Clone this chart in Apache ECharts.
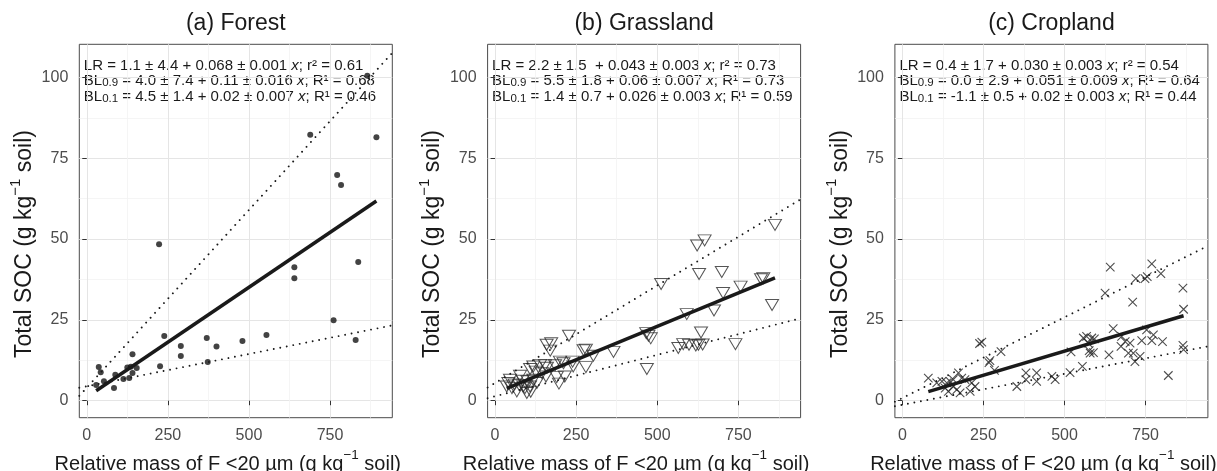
<!DOCTYPE html>
<html><head><meta charset="utf-8">
<script src="https://cdn.jsdelivr.net/npm/echarts@6/dist/echarts.min.js"></script>
<style>html,body{margin:0;padding:0;background:#fff}#c{width:1217px;height:471px}</style>
</head><body><div id="c"></div>
<script>
// ---------- data ----------
const panelTitles = ['(a) Forest', '(b) Grassland', '(c) Cropland'];
const xTicks = [0, 250, 500, 750];
const xMinor = [125, 375, 625, 875];
const yTicks = [0, 25, 50, 75, 100];
const yMinor = [12.5, 37.5, 62.5, 87.5];

const forestX = [689, 893, 772, 784, 223, 640, 640, 837, 761, 829, 554, 480, 370, 400, 373, 239, 290, 290, 226, 141, 37, 43, 29, 53, 84, 88, 113, 125, 136, 141, 131, 154, 865];
const forestY = [82.3, 81.5, 69.8, 66.7, 48.4, 41.3, 37.9, 42.9, 24.9, 18.8, 20.3, 18.5, 19.4, 16.8, 12.0, 20.0, 16.9, 13.8, 10.7, 14.4, 10.4, 8.8, 4.9, 6.0, 3.9, 8.0, 6.7, 10.3, 10.5, 8.6, 7.0, 10.1, 100.5];

const grassX = [863, 646, 623, 629, 699, 512, 757, 820, 827, 703, 854, 675, 591, 635, 466, 480, 473, 741, 565, 580, 598, 619, 627, 640, 468, 365, 280, 273, 303, 280, 241, 228, 159, 173, 170, 139, 118, 200, 211, 239, 108, 190, 197, 157, 77, 46, 41, 67, 98, 92, 108, 129, 118, 87, 36, 52, 60, 75, 100, 145, 125, 215, 160, 185, 110, 85, 154];
const grassY = [54.4, 49.6, 48.0, 39.2, 39.8, 36.1, 35.3, 37.6, 37.9, 33.3, 29.6, 27.9, 26.8, 21.1, 20.9, 19.3, 20.1, 17.5, 16.3, 17.5, 17.3, 17.1, 17.3, 17.4, 9.8, 15.1, 15.8, 15.6, 13.9, 10.4, 10.6, 20.1, 17.3, 17.8, 15.5, 11.1, 10.6, 12.1, 11.6, 12.1, 9.8, 7.3, 5.3, 7.5, 7.7, 6.5, 5.5, 2.9, 2.4, 3.9, 4.4, 5.5, 6.5, 4.4, 4.4, 3.9, 5.0, 4.8, 6.0, 8.5, 9.0, 7.5, 10.2, 11.0, 2.8, 6.2, 11.0];

const cropX = [641, 769, 720, 748, 755, 797, 865, 625, 710, 867, 650, 558, 568, 584, 592, 573, 579, 589, 576, 520, 676, 687, 702, 738, 769, 774, 753, 802, 674, 697, 712, 717, 733, 637, 865, 867, 820, 245, 238, 270, 267, 284, 304, 381, 381, 414, 414, 353, 461, 471, 517, 555, 80, 106, 122, 137, 147, 157, 173, 183, 193, 214, 142, 168, 178, 209, 224, 157, 132];
const cropY = [41.3, 42.3, 37.8, 37.8, 38.4, 39.3, 34.8, 33.3, 30.5, 28.3, 22.3, 19.4, 19.9, 19.4, 19.1, 17.8, 14.7, 14.9, 15.5, 15.1, 19.9, 18.3, 17.8, 18.6, 18.6, 20.4, 21.9, 18.3, 16.8, 14.7, 14.7, 12.1, 13.7, 14.2, 17.1, 15.8, 7.8, 18.1, 17.7, 12.4, 11.8, 9.4, 15.2, 8.6, 6.5, 8.6, 6.0, 4.4, 7.5, 6.5, 8.7, 10.6, 7.0, 5.5, 6.0, 5.5, 6.0, 6.5, 8.6, 7.0, 6.5, 5.5, 2.9, 3.4, 2.4, 2.9, 4.4, 4.4, 3.9];

// fitted lines (end points)
const forestLR = [[29, 3.1], [893, 61.8]];
const forestBL09 = [[-23, 1.5], [942, 107.6]];
const forestBL01 = [[-23, 4.0], [942, 23.3]];
const grassLR = [[36, 3.8], [863, 38.0]];
const grassBL09 = [[-23, 4.1], [942, 62.3]];
const grassBL01 = [[-23, 0.8], [942, 25.5]];
const cropLR = [[80, 2.8], [867, 26.3]];
const cropBL09 = [[-23, -0.3], [942, 47.9]];
const cropBL01 = [[-23, -1.7], [942, 16.8]];

const annotations = [
  ['LR = 1.1 ± 4.4 + 0.068 ± 0.001 ', '; r² = 0.61', '4.0 ± 7.4 + 0.11 ± 0.016 ', '; R¹ = 0.68', '4.5 ± 1.4 + 0.02 ± 0.007 ', '; R¹ = 0.46'],
  ['LR = 2.2 ± 1.5  + 0.043 ± 0.003 ', '; r² = 0.73', '5.5 ± 1.8 + 0.06 ± 0.007 ', '; R¹ = 0.73', '1.4 ± 0.7 + 0.026 ± 0.003 ', '; R¹ = 0.59'],
  ['LR = 0.4 ± 1.7 + 0.030 ± 0.003 ', '; r² = 0.54', '0.0 ± 2.9 + 0.051 ± 0.009 ', '; R¹ = 0.64', '-1.1 ± 0.5 + 0.02 ± 0.003 ', '; R¹ = 0.44']
];
const xTitle = 'Relative mass of F <20 µm (g kg';
const yTitle = 'Total SOC (g kg';

// ---------- layout ----------
const FONT = "'Liberation Sans', Arial, Helvetica, sans-serif";
const gridLefts = [79.3, 487.6, 894.9];
const GW = 313, GT = 44.3, GH = 373.4;
const XMIN = -23, XMAX = 942, YMIN = -5.25, YMAX = 110.25;

const grids = [], xAxes = [], yAxes = [], series = [], graphics = [];
const pts = (xs, ys) => xs.map((x, i) => [x, ys[i]]);
const scatterStyles = [
  {symbol: 'circle', symbolSize: 6, itemStyle: {color: '#141414'}},
  {symbol: 'triangle', symbolRotate: 180, symbolSize: [13, 11], itemStyle: {color: 'rgba(0,0,0,0)', borderColor: '#2a2a2a', borderWidth: 1}},
  {symbol: 'path://M0,0L10,10M10,0L0,10', symbolSize: 8.5, itemStyle: {color: 'rgba(0,0,0,0)', borderColor: '#222', borderWidth: 1.1}}
];
const panelData = [
  [pts(forestX, forestY), forestLR, forestBL09, forestBL01],
  [pts(grassX, grassY), grassLR, grassBL09, grassBL01],
  [pts(cropX, cropY), cropLR, cropBL09, cropBL01]
];

for (let i = 0; i < 3; i++) {
  grids.push({left: gridLefts[i], top: GT, width: GW, height: GH, show: true,
    outerBoundsMode: 'none', containLabel: false,
    borderColor: '#4a4a4a', borderWidth: 1, backgroundColor: 'transparent'});
  xAxes.push({type: 'value', gridIndex: i, min: XMIN, max: XMAX,
    axisLine: {show: false},
    axisTick: {show: true, length: 4.5, lineStyle: {color: '#333'}, customValues: xTicks},
    axisLabel: {customValues: xTicks, color: '#4d4d4d', fontSize: 16, margin: 10, fontFamily: FONT},
    splitLine: {show: true, lineStyle: {color: '#e5e5e5', width: 1}},
    name: '{n|' + xTitle + '}{s|−1}{n| soil)}', nameLocation: 'middle', nameGap: 25,
    nameTextStyle: {padding: [0, 16, 0, 0], fontFamily: FONT, fontSize: 20, color: '#1a1a1a',
      rich: {n: {fontSize: 20, lineHeight: 32, fontFamily: FONT, color: '#1a1a1a', verticalAlign: 'middle'},
             s: {fontSize: 13.5, lineHeight: 14, fontFamily: FONT, color: '#1a1a1a', verticalAlign: 'top'}}}
  });
  xAxes.push({type: 'value', gridIndex: i, min: XMIN, max: XMAX,
    axisLine: {show: false}, axisTick: {show: false, customValues: xMinor},
    axisLabel: {show: false, customValues: xMinor},
    splitLine: {show: true, lineStyle: {color: '#f2f2f2', width: 0.8}}});
  yAxes.push({type: 'value', gridIndex: i, min: YMIN, max: YMAX,
    axisLine: {show: false},
    axisTick: {show: true, length: 4.5, lineStyle: {color: '#333'}, customValues: yTicks},
    axisLabel: {customValues: yTicks, color: '#4d4d4d', fontSize: 16, margin: 11, fontFamily: FONT},
    splitLine: {show: true, lineStyle: {color: '#e5e5e5', width: 1}},
    name: '{n|' + yTitle + '}{s|−1}{n| soil)}', nameLocation: 'middle', nameGap: 38.6,
    nameTextStyle: {padding: [0, 26, 0, 0], fontFamily: FONT, fontSize: 23, color: '#1a1a1a',
      rich: {n: {fontSize: 23, lineHeight: 32, fontFamily: FONT, color: '#1a1a1a', verticalAlign: 'middle'},
             s: {fontSize: 15, lineHeight: 14, fontFamily: FONT, color: '#1a1a1a', verticalAlign: 'top'}}}
  });
  yAxes.push({type: 'value', gridIndex: i, min: YMIN, max: YMAX,
    axisLine: {show: false}, axisTick: {show: false, customValues: yMinor},
    axisLabel: {show: false, customValues: yMinor},
    splitLine: {show: true, lineStyle: {color: '#f2f2f2', width: 0.8}}});

  const xi = i * 2, yi = i * 2;
  const [sc, lr, b9, b1] = panelData[i];
  series.push(Object.assign({type: 'scatter', xAxisIndex: xi, yAxisIndex: yi, data: sc, silent: true}, scatterStyles[i]));
  series.push({type: 'line', xAxisIndex: xi, yAxisIndex: yi, data: lr, symbol: 'none', silent: true, clip: true,
    lineStyle: {color: '#1a1a1a', width: 3.5}});
  [b9, b1].forEach(d => series.push({type: 'line', xAxisIndex: xi, yAxisIndex: yi, data: d, symbol: 'none', silent: true, clip: true,
    lineStyle: {color: '#1a1a1a', width: 1.9, type: [0.01, 6.6], cap: 'round'}}));

  graphics.push({type: 'text', x: gridLefts[i] + GW / 2, y: 23.7,
    style: {text: panelTitles[i], fontFamily: FONT, fontSize: 23, fill: '#1a1a1a', align: 'center', verticalAlign: 'middle'}});
  const a = annotations[i];
  const rich = {
    n: {fontSize: 15, lineHeight: 16, fontFamily: FONT, color: '#1a1a1a', verticalAlign: 'middle'},
    i: {fontSize: 15, lineHeight: 16, fontFamily: FONT, fontStyle: 'italic', color: '#1a1a1a', verticalAlign: 'middle'},
    b: {fontSize: 11.5, lineHeight: 9, fontFamily: FONT, color: '#1a1a1a', verticalAlign: 'bottom'}
  };
  const lines = [
    '{n|' + a[0] + '}{i|x}{n|' + a[1] + '}',
    '{n|BL}{b|0.9}{n| = ' + a[2] + '}{i|x}{n|' + a[3] + '}',
    '{n|BL}{b|0.1}{n| = ' + a[4] + '}{i|x}{n|' + a[5] + '}'
  ];
  const ys = [65.5, 81.3, 97.1];
  lines.forEach((t, k) => graphics.push({type: 'text', x: gridLefts[i] + 4.5, y: ys[k],
    style: {text: t, rich: rich, fontFamily: FONT, fontSize: 15, fill: '#1a1a1a', align: 'left', verticalAlign: 'middle'}}));
}

const chart = echarts.init(document.getElementById('c'), null, {renderer: 'canvas'});
chart.setOption({
  animation: false,
  backgroundColor: '#fff',
  grid: grids, xAxis: xAxes, yAxis: yAxes, series: series, graphic: graphics
});
</script></body></html>
